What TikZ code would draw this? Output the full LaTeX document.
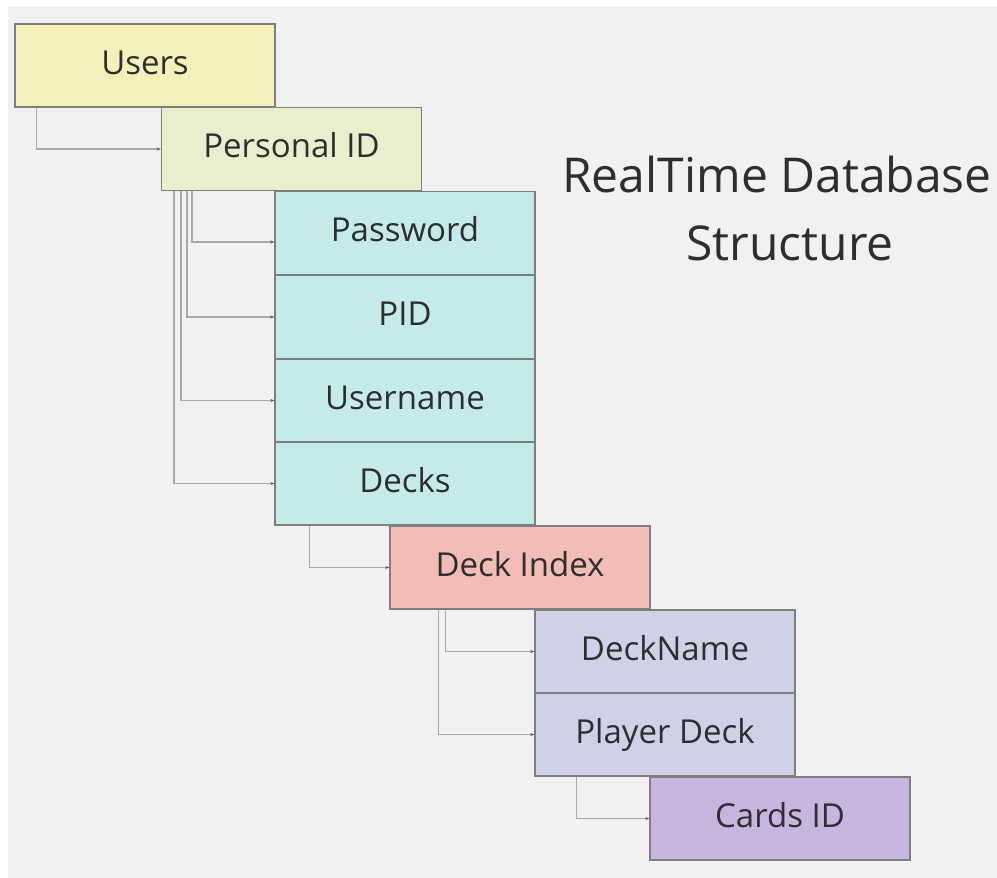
\documentclass[tikz,border=0pt]{standalone}
\usepackage{fontspec}
\setmainfont{Open Sans}
\usetikzlibrary{arrows.meta}
\definecolor{bgpage}{HTML}{F1F1F1}
\definecolor{boxline}{HTML}{7E7E7E}
\definecolor{connline}{HTML}{A9A9A9}
\definecolor{tipcol}{HTML}{555555}
\definecolor{txt}{HTML}{2E2E2E}
\definecolor{cusers}{HTML}{F5F0B9}
\definecolor{cpersonal}{HTML}{E9EFCD}
\definecolor{cfield}{HTML}{C5EAEA}
\definecolor{cdeckidx}{HTML}{F2BDB5}
\definecolor{cdeck}{HTML}{CFD1E6}
\definecolor{ccards}{HTML}{C7B5DF}
\tikzset{
  dbbox/.style={draw=boxline, line width=1.4pt, rectangle,
    minimum width=260pt, minimum height=83pt, inner sep=0pt,
    text height=26pt, text depth=9pt,
    text=txt, font=\fontsize{33}{40}\selectfont},
  conn/.style={draw=connline, line width=1.5pt,
    -{Stealth[length=4pt,width=3pt,color=tipcol]}},
  titletext/.style={text=txt, font=\fontsize{48}{60}\selectfont, inner sep=0pt, anchor=base}
}
\begin{document}
\begin{tikzpicture}[x=1pt,y=-1pt]
\useasboundingbox (0,0) rectangle (997,878);
\fill[white] (0,0) rectangle (997,878);
\fill[bgpage] (8,6) rectangle (997,878);

% tree of records
\node[dbbox, fill=cusers]    (users)      at (145,65.5)  {Users};
\node[dbbox, fill=cpersonal] (personal)   at (291.5,149) {Personal ID};
\node[dbbox, fill=cfield]    (password)   at (405,233)   {Password};
\node[dbbox, fill=cfield]    (pidf)       at (405,317)   {PID};
\node[dbbox, fill=cfield]    (username)   at (405,400.5) {Username};
\node[dbbox, fill=cfield]    (decks)      at (405,483.5) {Decks};
\node[dbbox, fill=cdeckidx]  (deckindex)  at (520,567.5) {Deck Index};
\node[dbbox, fill=cdeck]     (deckname)   at (665,651.5) {DeckName};
\node[dbbox, fill=cdeck]     (playerdeck) at (665,734.5) {Player Deck};
\node[dbbox, fill=ccards]    (cardsid)    at (780,818.5) {Cards ID};

% title
\node[titletext] (titleA) at (777,192) {RealTime Database};
\node[titletext] (titleB) at (790,260) {Structure};

% parent -> child links
\draw[conn] ([xshift=22pt]users.south west) |- (personal.west);
\draw[conn] ([xshift=31pt]personal.south west) |- ([yshift=-9pt]password.west);
\draw[conn] ([xshift=26pt]personal.south west) |- (pidf.west);
\draw[conn] ([xshift=20pt]personal.south west) |- (username.west);
\draw[conn] ([xshift=13pt]personal.south west) |- (decks.west);
\draw[conn] ([xshift=35pt]decks.south west) |- (deckindex.west);
\draw[conn] ([xshift=56pt]deckindex.south west) |- (deckname.west);
\draw[conn] ([xshift=49pt]deckindex.south west) |- (playerdeck.west);
\draw[conn] ([xshift=42pt]playerdeck.south west) |- (cardsid.west);
\end{tikzpicture}
\end{document}
